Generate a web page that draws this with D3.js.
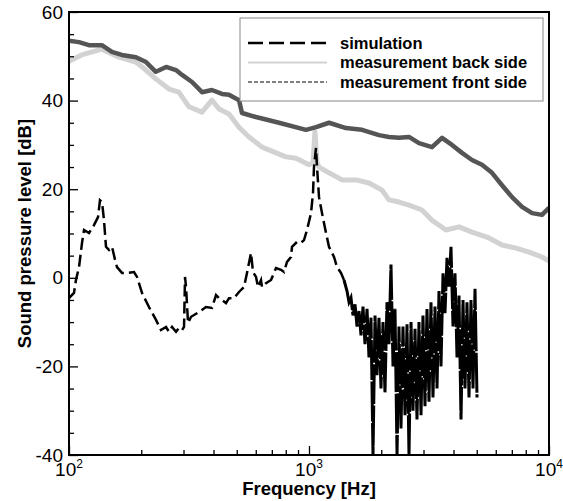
<!DOCTYPE html>
<html>
<head>
<meta charset="utf-8">
<script src="https://cdn.jsdelivr.net/npm/d3@7"></script>
<style>
  body { margin: 0; background: #fff; }
  text { font-family: "Liberation Sans", Arial, sans-serif; fill: #000; }
</style>
</head>
<body>
<div id="chart"></div>
<script>
// chart size and plot margins
const width = 563;
const height = 501;
const margin = { top: 12, right: 14, bottom: 46, left: 69 };

// axis ticks
const xMajor = [100, 1000, 10000];
const xExponents = [2, 3, 4];
const xMinor = [200, 300, 400, 500, 600, 700, 800, 900, 2000, 3000, 4000, 5000, 6000, 7000, 8000, 9000];
const yMajor = [-40, -20, 0, 20, 40, 60];
const yMinor = [-35, -30, -25, -15, -10, -5, 5, 10, 15, 25, 30, 35, 45, 50, 55];

const seriesNames = ["simulation", "measurement back side", "measurement front side"];

// [frequency Hz, level dB]
const simulation = [
  [100, -4.6], [104.9, -3.4], [106.9, -0.5], [110.1, 2.4], [113.3, 7.9], [115.5, 10.8],
  [121.2, 10.1], [127.1, 11.9], [132.1, 13.7], [134.6, 17.5], [137.3, 17.1], [139.9, 13],
  [142.6, 7], [146.8, 6.3], [151.1, 7], [155.5, 4.1], [158.5, 2.4], [166.3, 1.1],
  [174.5, 1.1], [186.6, 1.3], [192, 0.2], [201.4, -3.4], [215.4, -6.6], [230.4, -9.5],
  [241.7, -11.8], [253.6, -11.1], [261, -12.2], [268.7, -11.1], [279.2, -12.2], [287.3, -11.3],
  [295.7, -11.8], [301.5, -11.1], [304.4, 0.2], [307.4, -2.1], [313.3, -10.2], [322.5, -8.8],
  [331.9, -8.4], [348.1, -7.7], [372.3, -6.6], [394.4, -6.8], [409.8, -3.9], [421.7, -4.6],
  [434, -5], [451, -5.7], [464.2, -4.6], [486.9, -4.6], [510.9, -3.2], [536, -2.1],
  [551.6, 1.1], [573.3, 5.6], [584.4, 1.3], [601.5, 0.2], [613.1, -2.1], [631, -0.5],
  [637.1, -2.1], [662.1, -1.2], [694.7, -0.5], [728.8, 2.2], [764.7, 1.8], [786.9, 1.3],
  [809.8, 3.6], [841.4, 4.7], [849.5, 7], [891.3, 8.1], [926.1, 7.9], [953.1, 8.5],
  [981, 10.8], [1019.4, 14.6], [1039.1, 19.1], [1049.1, 25], [1069.5, 29.3], [1080, 25],
  [1100.7, 18.2], [1133, 14.6], [1177.4, 10.1], [1211.5, 7], [1271.3, 4.7], [1308.4, 2.4],
  [1359.4, 1.1], [1399.1, -0.5],
  [1440, -3], [1468, -5.5], [1496, -4.5], [1525, -8.5], [1555, -6], [1585, -11],
  [1616, -7.5], [1647, -13], [1679, -6.5], [1711, -15], [1745, -7], [1778, -18],
  [1813, -9], [1848, -40], [1884, -8.5], [1920, -22], [1957, -9], [1995, -25],
  [2034, -10], [2073, -26], [2113, -5.5], [2154, -15], [2196, 3], [2239, -20],
  [2282, -7], [2327, -40], [2371, -11], [2417, -34], [2464, -11], [2512, -31],
  [2561, -10.5], [2610, -40], [2661, -10], [2712, -30], [2765, -11.5], [2818, -32],
  [2873, -10], [2929, -31], [2985, -8.5], [3043, -29], [3102, -7], [3162, -28],
  [3223, -5.5], [3286, -27], [3349, -6.5], [3415, -25], [3481, -3], [3548, -20],
  [3617, 1], [3687, -8], [3758, 4.5], [3831, -2], [3905, 7], [3981, -11],
  [4058, 1], [4137, -18], [4217, -4], [4299, -32], [4382, -5], [4467, -25],
  [4553, -5.5], [4642, -27], [4732, -5], [4823, -25], [4917, -2.5], [5012, -27]
];
// where the simulation turns into dense oscillation
const simNoiseStart = 1399.1;

const backSide = [
  [100, 48.9], [113, 50.3], [137, 51.6], [161.6, 49.8], [190, 48.7], [209, 46.9],
  [230, 44.9], [261, 42.6], [287, 41.9], [316.2, 38.6], [358, 37.4], [394, 40.1],
  [422, 38.1], [464, 37], [511, 34], [562.3, 31.8], [637, 29.5], [729, 28.2],
  [802, 27.3], [882.5, 27], [1000, 25.5], [1039, 26], [1059, 33], [1080, 26],
  [1101, 25], [1212, 23.7], [1373, 22.1], [1570, 22.1], [1778, 21.4], [2015, 19.8],
  [2154, 17.6], [2371, 17.1], [2610, 16.4], [2956, 15.3], [3255, 13], [3722, 10.8],
  [4217, 11.5], [4777, 10.3], [5623, 9], [6372, 7.4], [7289, 6.7], [8254, 5.8],
  [9351, 4.7], [10000, 3.8]
];

const frontSide = [
  [100, 53.5], [110, 53.2], [121, 52.5], [137, 52.5], [151, 51], [166, 50.3],
  [190, 49.8], [209.4, 48.7], [230, 46.5], [254, 47.6], [279, 46.9], [296, 45.8],
  [325.6, 44.2], [358.3, 41.9], [394, 42.4], [434, 41.5], [464, 41.3], [511, 40.1],
  [525.7, 37.2], [601, 36.3], [749.9, 35], [971.6, 33.4], [1070, 34], [1212, 35],
  [1426, 33.8], [1663, 33.4], [1957, 32.2], [2154, 31.8], [2371, 31.6], [2610, 31.8],
  [2873, 30.4], [3255, 29.5], [3583, 31.6], [3943, 30], [4340, 28.2], [4777, 26.6],
  [5257, 25.5], [5788, 23.7], [6372, 20.9], [7015, 18.2], [7722, 16], [8500, 14.6],
  [9351, 14.2], [10000, 15.8]
];

const svg = d3.select("#chart")
  .append("svg")
  .attr("width", width)
  .attr("height", height);

const x = d3.scaleLog()
  .domain([100, 10000])
  .range([margin.left, width - margin.right]);

const y = d3.scaleLinear()
  .domain([-40, 60])
  .range([height - margin.bottom, margin.top]);

svg.append("clipPath")
  .attr("id", "plot-clip")
  .append("rect")
  .attr("x", margin.left)
  .attr("y", margin.top)
  .attr("width", width - margin.left - margin.right)
  .attr("height", height - margin.top - margin.bottom);

const line = d3.line()
  .x(d => x(d[0]))
  .y(d => y(d[1]));

const curves = svg.append("g").attr("clip-path", "url(#plot-clip)");

curves.append("path")
  .datum(backSide)
  .attr("fill", "none")
  .attr("stroke", "#d2d2d2")
  .attr("stroke-width", 5)
  .attr("stroke-linejoin", "round")
  .attr("d", line);

curves.append("path")
  .datum(frontSide)
  .attr("fill", "none")
  .attr("stroke", "#555")
  .attr("stroke-width", 4.5)
  .attr("stroke-linejoin", "round")
  .attr("d", line);

curves.append("path")
  .datum(simulation.filter(d => d[0] <= simNoiseStart))
  .attr("fill", "none")
  .attr("stroke", "#000")
  .attr("stroke-width", 2.5)
  .attr("stroke-dasharray", "12,5")
  .attr("d", line);

// the dense part reads as an almost solid black band
curves.append("path")
  .datum(simulation.filter(d => d[0] >= simNoiseStart))
  .attr("fill", "none")
  .attr("stroke", "#000")
  .attr("stroke-width", 3)
  .attr("stroke-dasharray", "40,1.5")
  .attr("d", line);

// axes, ticks pointing inwards
const yAxis = svg.append("g")
  .attr("transform", `translate(${margin.left},0)`)
  .call(d3.axisLeft(y).tickValues(yMajor).tickSizeInner(-9).tickSizeOuter(0).tickPadding(6)
    .tickFormat(d => String(d)));
yAxis.append("g")
  .call(d3.axisLeft(y).tickValues(yMinor).tickSizeInner(-5).tickSizeOuter(0).tickFormat(""));
yAxis.selectAll("text")
  .style("font-size", "19px")
  .attr("fill", "#000");

const xAxis = svg.append("g")
  .attr("transform", `translate(0,${height - margin.bottom})`)
  .call(d3.axisBottom(x).tickValues(xMajor).tickSizeInner(-9).tickSizeOuter(0).tickFormat(""));
xAxis.append("g")
  .call(d3.axisBottom(x).tickValues(xMinor).tickSizeInner(-5).tickSizeOuter(0).tickFormat(""));

svg.selectAll(".tick line").attr("stroke", "#000").attr("stroke-width", 1.3);
svg.selectAll(".domain").attr("stroke", "none");

const xLabels = svg.append("g")
  .selectAll("text")
  .data(xMajor)
  .join("text")
  .attr("x", d => x(d))
  .attr("y", height - margin.bottom + 21)
  .attr("text-anchor", "middle")
  .style("font-size", "19px");
xLabels.append("tspan").text("10");
xLabels.append("tspan")
  .attr("dy", -8)
  .style("font-size", "12px")
  .text((d, i) => xExponents[i]);

// plot frame
svg.append("rect")
  .attr("x", margin.left)
  .attr("y", margin.top)
  .attr("width", width - margin.left - margin.right)
  .attr("height", height - margin.top - margin.bottom)
  .attr("fill", "none")
  .attr("stroke", "#000")
  .attr("stroke-width", 2);

// axis titles
svg.append("text")
  .attr("x", (margin.left + width - margin.right) / 2)
  .attr("y", height - 6)
  .attr("text-anchor", "middle")
  .style("font-size", "18.5px")
  .style("font-weight", "bold")
  .text("Frequency [Hz]");

svg.append("text")
  .attr("transform", `translate(31,${(margin.top + height - margin.bottom) / 2}) rotate(-90)`)
  .attr("text-anchor", "middle")
  .style("font-size", "18.5px")
  .style("font-weight", "bold")
  .text("Sound pressure level [dB]");

// legend
const legend = svg.append("g");
legend.append("rect")
  .attr("x", 240)
  .attr("y", 18)
  .attr("width", 303)
  .attr("height", 83)
  .attr("fill", "#fff")
  .attr("stroke", "#888")
  .attr("stroke-width", 1);

const legendStyles = [
  { color: "#000", width: 2.5, dash: "15,6" },
  { color: "#d2d2d2", width: 2, dash: null },
  { color: "#555", width: 1.5, dash: "4,2" }
];

const rows = legend.selectAll("g.row")
  .data(seriesNames)
  .join("g")
  .attr("class", "row")
  .attr("transform", (d, i) => `translate(0,${43 + i * 19.5})`);

rows.append("line")
  .attr("x1", 248)
  .attr("x2", 327)
  .attr("stroke", (d, i) => legendStyles[i].color)
  .attr("stroke-width", (d, i) => legendStyles[i].width)
  .attr("stroke-dasharray", (d, i) => legendStyles[i].dash);

rows.append("text")
  .attr("x", 340)
  .attr("dy", "0.35em")
  .style("font-size", "16.5px")
  .style("font-weight", "bold")
  .text(d => d);
</script>
</body>
</html>
